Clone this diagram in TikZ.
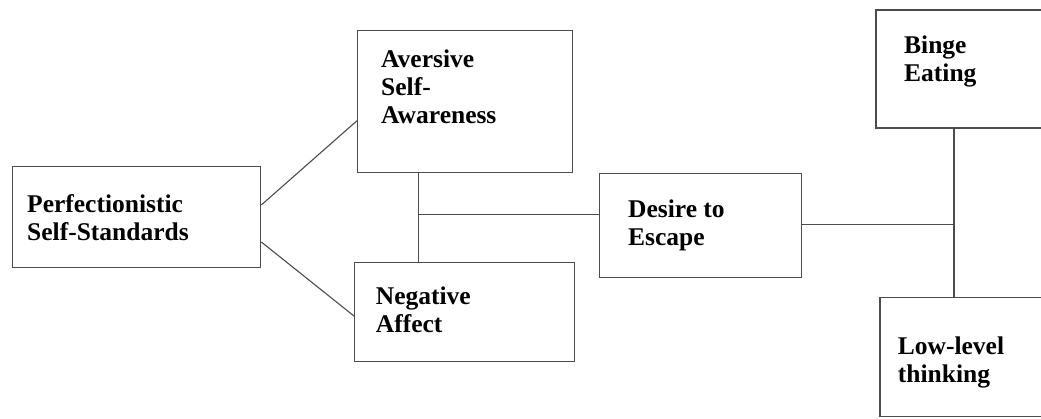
\documentclass[tikz,border=0pt]{standalone}
\usepackage{fontspec}
\setmainfont{Liberation Serif}
\begin{document}
\begin{tikzpicture}[x=1pt,y=-1pt,
  box/.style={draw=black!70,line width=1.3pt,fill=none,inner sep=0pt,anchor=north west},
  lbl/.style={anchor=base west,inner sep=0pt,font=\fontsize{25.5}{28}\selectfont\bfseries,align=left},
  link/.style={draw=black!70,line width=1.1pt}]
\useasboundingbox (0,0) rectangle (1041,419);
\clip (0,0) rectangle (1041,419);
\fill[white] (0,0) rectangle (1041,419);
% boxes
\node[box,minimum width=248.3pt,minimum height=101pt] (perf) at (11.7,166) {};
\node[box,minimum width=214.7pt,minimum height=142.3pt] (avers) at (357,29.7) {};
\node[box,minimum width=220pt,minimum height=99pt] (neg) at (354,262) {};
\node[box,minimum width=202.3pt,minimum height=104pt] (desire) at (598.7,173) {};
\node[box,minimum width=175pt,minimum height=118pt] (binge) at (875.3,9.3) {};
\node[box,minimum width=171pt,minimum height=119pt] (low) at (879.3,297) {};
% labels (anchored at the baseline of the last line)
\node[lbl] (tperf) at (27,240.5) {Perfectionistic\\Self-Standards};
\node[lbl] (tavers) at (381,124) {Aversive\\Self-\\Awareness};
\node[lbl] (tneg) at (375.7,333) {Negative\\Affect};
\node[lbl] (tdes) at (628,246) {Desire to\\Escape};
\node[lbl] (tbin) at (904,81.5) {Binge\\Eating};
\node[lbl] (tlow) at (897.7,382.3) {Low-level\\thinking};
% helper coordinates
\coordinate (y1) at (0,205);
\coordinate (y2) at (0,120.7);
\coordinate (y3) at (0,242);
\coordinate (y4) at (0,316);
\coordinate (xa) at (418.7,214.7);
\coordinate (xb) at (954,224.7);
% connectors
\draw[link] (perf.east |- y1) -- (avers.west |- y2);
\draw[link] (perf.east |- y3) -- (neg.west |- y4);
\draw[link] (avers.south -| xa) -- (neg.north -| xa);
\draw[link] (xa) -- (desire.west |- xa);
\draw[link] (desire.east |- xb) -- (xb);
\draw[link] (binge.south -| xb) -- (low.north -| xb);
\end{tikzpicture}
\end{document}
